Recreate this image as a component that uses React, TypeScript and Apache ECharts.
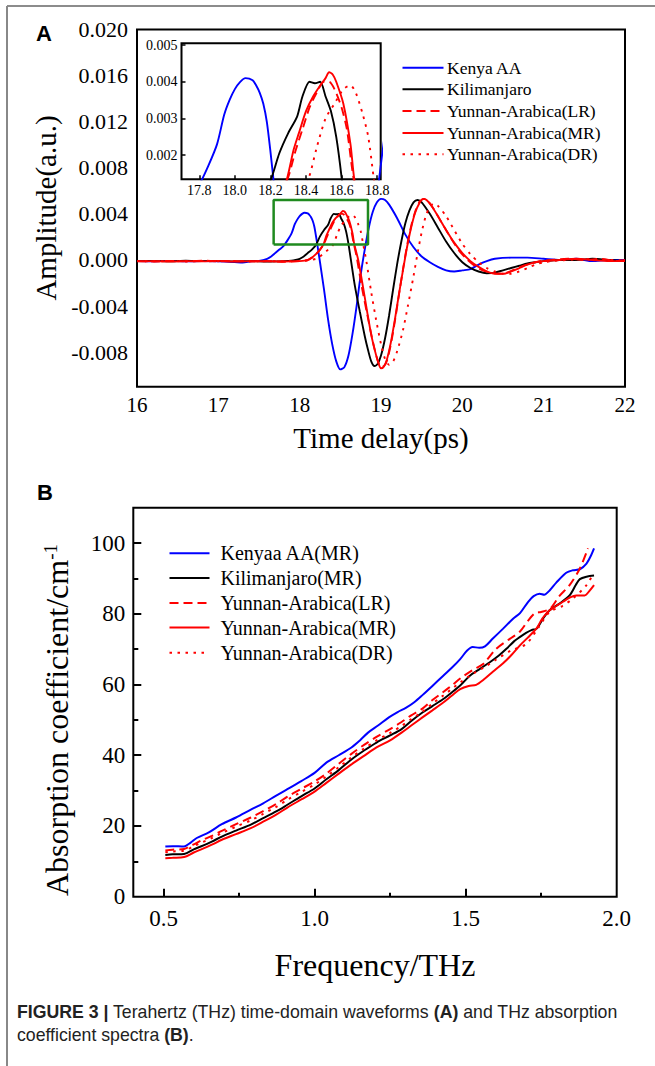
import React, { useEffect, useRef } from "react";
import * as echarts from "echarts";

const W = 655;
const H = 1066;
const SERIF = '"Liberation Serif", "Times New Roman", serif';
const SANS = '"Liberation Sans", Arial, sans-serif';

// ---------- Panel A: time-domain waveforms (time in ps, amplitude in a.u.) ----------
const namesA = ["Kenya AA", "Kilimanjaro", "Yunnan-Arabica(LR)", "Yunnan-Arabica(MR)", "Yunnan-Arabica(DR)"];

const kenyaAA_A: [number, number][] = [
  [16.0, -0.0001], [16.2, -0.00012], [16.4, -0.00008], [16.6, -0.00012], [16.8, -0.0001], [17.0, -0.00012],
  [17.2, -0.00018], [17.3, -0.00022], [17.4, -0.00012], [17.5, -0.00008], [17.6, 0.0001], [17.65, 0.0003],
  [17.7, 0.0006], [17.75, 0.0009], [17.8, 0.0012], [17.85, 0.0017], [17.9, 0.0023], [17.94, 0.0031],
  [17.97, 0.0035], [18.0, 0.0038], [18.03, 0.004], [18.06, 0.0041], [18.1, 0.00404], [18.12, 0.0039],
  [18.14, 0.0037], [18.16, 0.0034], [18.18, 0.0029], [18.2, 0.0021], [18.22, 0.0012], [18.25, -0.0002],
  [18.3, -0.0026], [18.35, -0.0052], [18.4, -0.0073], [18.45, -0.0088], [18.5, -0.0095], [18.55, -0.0093],
  [18.6, -0.0083], [18.65, -0.0064], [18.7, -0.004], [18.75, -0.0013], [18.8, 0.0009], [18.85, 0.0028],
  [18.9, 0.0042], [18.95, 0.005], [19.0, 0.0053], [19.05, 0.0052], [19.1, 0.0048], [19.2, 0.0036],
  [19.3, 0.0022], [19.4, 0.0011], [19.5, 0.0003], [19.6, -0.0002], [19.7, -0.0006], [19.8, -0.0009],
  [19.9, -0.001], [20.0, -0.0009], [20.1, -0.0008], [20.2, -0.0004], [20.3, -0.0001], [20.4, 0.0001],
  [20.6, 0.0002], [20.8, 0.0002], [21.0, 0.0001], [21.2, 0.0], [21.4, 0.0001], [21.6, -0.0001], [21.8, 0.0], [22.0, 0.0],
];

const kilimanjaro_A: [number, number][] = [
  [16.0, -0.0001], [16.2, -0.00008], [16.4, -0.00012], [16.6, -0.00006], [16.8, -0.0001], [17.0, -0.00008],
  [17.2, -0.00012], [17.4, -0.0001], [17.6, -0.00014], [17.8, -0.0001], [17.9, -0.00006], [17.95, 0.0],
  [18.0, 0.0001], [18.05, 0.0003], [18.1, 0.0006], [18.15, 0.0009], [18.2, 0.0013], [18.25, 0.00205],
  [18.3, 0.0026], [18.35, 0.00305], [18.38, 0.0036], [18.42, 0.004], [18.45, 0.00396], [18.48, 0.004],
  [18.51, 0.0036], [18.54, 0.0032], [18.57, 0.0025], [18.6, 0.0014], [18.63, 0.0], [18.68, -0.0023],
  [18.74, -0.0045], [18.8, -0.0066], [18.84, -0.0078], [18.88, -0.0088], [18.92, -0.0092], [18.96, -0.009],
  [19.0, -0.0083], [19.05, -0.0068], [19.1, -0.0048], [19.15, -0.0025], [19.2, -0.0003], [19.25, 0.0016],
  [19.3, 0.0032], [19.35, 0.0043], [19.4, 0.005], [19.45, 0.0052], [19.5, 0.005], [19.6, 0.004],
  [19.7, 0.0028], [19.8, 0.0016], [19.9, 0.0006], [20.0, -0.0002], [20.1, -0.0007], [20.2, -0.001],
  [20.3, -0.00115], [20.4, -0.0011], [20.5, -0.0009], [20.6, -0.0007], [20.7, -0.0005], [20.8, -0.0003],
  [20.9, -0.0002], [21.0, -0.0001], [21.2, 0.0], [21.4, 0.0], [21.6, 0.0001], [21.8, 0.0], [22.0, -0.0001],
];

const yunnanLR_A: [number, number][] = [
  [16.0, -0.0001], [16.2, -0.00014], [16.4, -0.00008], [16.6, -0.00012], [16.8, -0.00006], [17.0, -0.00012],
  [17.2, -0.0001], [17.4, -0.00014], [17.6, -0.0001], [17.8, -0.00016], [18.0, -0.0001], [18.1, 0.0],
  [18.15, 0.0002], [18.2, 0.0005], [18.25, 0.0009], [18.3, 0.0014], [18.34, 0.0021], [18.38, 0.0027],
  [18.42, 0.0033], [18.46, 0.0037], [18.5, 0.004], [18.53, 0.004], [18.56, 0.0038], [18.6, 0.0033],
  [18.63, 0.0027], [18.66, 0.0016], [18.7, 0.0003], [18.76, -0.0022], [18.83, -0.0047], [18.9, -0.0071],
  [18.95, -0.0085], [19.0, -0.0093], [19.04, -0.0092], [19.08, -0.0086], [19.13, -0.007], [19.18, -0.0049],
  [19.23, -0.0026], [19.28, -0.0004], [19.33, 0.0016], [19.38, 0.0032], [19.43, 0.0044], [19.48, 0.0051],
  [19.53, 0.0053], [19.58, 0.0051], [19.65, 0.0044], [19.75, 0.0032], [19.85, 0.002], [19.95, 0.0009],
  [20.05, 0.0001], [20.15, -0.0005], [20.25, -0.0009], [20.35, -0.0011], [20.45, -0.0012], [20.55, -0.0011],
  [20.65, -0.0008], [20.75, -0.0005], [20.85, -0.0003], [20.95, -0.0001], [21.1, 0.0], [21.3, 0.0001],
  [21.5, 0.0], [21.7, 0.0001], [21.9, -0.0001], [22.0, 0.0],
];

const yunnanMR_A: [number, number][] = [
  [16.0, -0.00012], [16.2, -0.0001], [16.4, -0.00014], [16.6, -0.0001], [16.8, -0.00012], [17.0, -0.00008],
  [17.2, -0.00014], [17.4, -0.0001], [17.6, -0.00012], [17.8, -0.00014], [18.0, -0.0001], [18.1, -0.00002],
  [18.15, 0.0002], [18.2, 0.0005], [18.25, 0.0009], [18.29, 0.0013], [18.33, 0.00214], [18.36, 0.0026],
  [18.4, 0.0032], [18.44, 0.0036], [18.48, 0.0039], [18.51, 0.0041], [18.53, 0.00426], [18.55, 0.0042],
  [18.57, 0.004], [18.61, 0.0034], [18.65, 0.0023], [18.67, 0.0014], [18.72, 0.0], [18.78, -0.0024],
  [18.83, -0.0045], [18.88, -0.0065], [18.93, -0.008], [18.97, -0.009], [19.0, -0.0094], [19.03, -0.0093],
  [19.07, -0.0087], [19.12, -0.0072], [19.17, -0.0052], [19.22, -0.003], [19.27, -0.0009], [19.32, 0.0011],
  [19.37, 0.0028], [19.42, 0.0041], [19.47, 0.0049], [19.52, 0.0053], [19.56, 0.0052], [19.62, 0.0047],
  [19.7, 0.0038], [19.8, 0.0026], [19.9, 0.0015], [20.0, 0.0006], [20.1, -0.0001], [20.2, -0.0006],
  [20.3, -0.001], [20.4, -0.0012], [20.5, -0.0012], [20.6, -0.001], [20.7, -0.0007], [20.8, -0.0004],
  [20.9, -0.0002], [21.0, -0.0001], [21.2, 0.0], [21.4, 0.0001], [21.6, 0.0], [21.8, -0.0001], [22.0, -0.0001],
];

const yunnanDR_A: [number, number][] = [
  [16.0, -0.0001], [16.2, -0.00012], [16.4, -0.0001], [16.6, -0.00014], [16.8, -0.0001], [17.0, -0.00012],
  [17.2, -0.00008], [17.4, -0.00012], [17.6, -0.0001], [17.8, -0.00012], [18.0, -0.0001], [18.1, -0.00006],
  [18.2, 0.0001], [18.25, 0.0003], [18.3, 0.0006], [18.35, 0.0009], [18.41, 0.0013], [18.46, 0.0022],
  [18.51, 0.003], [18.56, 0.0034], [18.61, 0.0038], [18.65, 0.0039], [18.68, 0.0037], [18.72, 0.0031],
  [18.75, 0.0025], [18.78, 0.0014], [18.82, -0.0001], [18.88, -0.0028], [18.94, -0.0052], [19.0, -0.0073],
  [19.05, -0.0086], [19.1, -0.0091], [19.15, -0.0088], [19.2, -0.0079], [19.27, -0.0061], [19.33, -0.004],
  [19.4, -0.0014], [19.45, 0.0006], [19.5, 0.0024], [19.55, 0.0038], [19.6, 0.0046], [19.65, 0.0049],
  [19.7, 0.0047], [19.8, 0.0038], [19.9, 0.0026], [20.0, 0.0014], [20.1, 0.0005], [20.2, -0.0002],
  [20.3, -0.0007], [20.4, -0.001], [20.5, -0.0012], [20.6, -0.0012], [20.7, -0.001], [20.8, -0.0007],
  [20.9, -0.0004], [21.0, -0.0002], [21.1, -0.0001], [21.3, 0.0], [21.5, 0.0001], [21.7, 0.0], [21.9, 0.0], [22.0, -0.0001],
];

// zoom window drawn on the main panel (time, amplitude corners)
const zoomBox: [number, number][] = [
  [17.68, 0.00135], [18.84, 0.00135], [18.84, 0.0052], [17.68, 0.0052], [17.68, 0.00135],
];

const ticksA_y = [-0.008, -0.004, 0, 0.004, 0.008, 0.012, 0.016, 0.02];
const ticksInset_x = [17.8, 18.0, 18.2, 18.4, 18.6, 18.8];
const ticksInset_y = [0.002, 0.003, 0.004, 0.005];

// ---------- Panel B: absorption coefficient (frequency THz, cm^-1) ----------
const namesB = ["Kenyaa AA(MR)", "Kilimanjaro(MR)", "Yunnan-Arabica(LR)", "Yunnan-Arabica(MR)", "Yunnan-Arabica(DR)"];

const kenyaAA_B: [number, number][] = [
  [0.506, 14.2], [0.53, 14.3], [0.568, 14.2], [0.59, 15.3], [0.61, 16.6], [0.65, 18.2], [0.693, 20.5],
  [0.74, 22.4], [0.789, 24.6], [0.83, 26.4], [0.873, 28.6], [0.91, 30.4], [0.956, 32.7], [1.0, 35.0],
  [1.039, 37.9], [1.08, 40.0], [1.122, 42.2], [1.15, 44.2], [1.177, 46.4], [1.21, 48.4], [1.246, 50.7],
  [1.275, 52.2], [1.302, 53.4], [1.33, 55.0], [1.357, 57.0], [1.39, 59.6], [1.426, 62.5], [1.455, 64.8],
  [1.482, 67.2], [1.505, 69.6], [1.523, 70.6], [1.545, 70.4], [1.564, 70.8], [1.59, 73.0], [1.624, 75.8],
  [1.657, 78.6], [1.68, 80.2], [1.707, 83.4], [1.725, 85.0], [1.745, 85.7], [1.76, 85.4], [1.778, 86.6],
  [1.8, 88.8], [1.833, 91.6], [1.855, 92.3], [1.878, 92.6], [1.9, 94.2], [1.915, 96.5], [1.925, 98.5],
];

const kilimanjaro_B: [number, number][] = [
  [0.506, 11.8], [0.53, 12.0], [0.568, 12.1], [0.6, 13.4], [0.623, 14.2], [0.66, 15.6], [0.693, 17.0],
  [0.74, 18.7], [0.789, 20.4], [0.83, 22.2], [0.873, 24.1], [0.91, 26.0], [0.956, 28.4], [1.0, 30.6],
  [1.039, 33.2], [1.08, 35.8], [1.122, 38.8], [1.165, 41.4], [1.205, 43.6], [1.25, 45.6], [1.288, 47.4],
  [1.32, 49.7], [1.357, 52.1], [1.39, 53.9], [1.426, 55.9], [1.455, 57.8], [1.482, 59.7], [1.514, 62.5],
  [1.545, 64.3], [1.58, 66.3], [1.61, 68.2], [1.635, 70.1], [1.66, 72.2], [1.679, 73.4], [1.7, 74.6],
  [1.718, 75.4], [1.735, 75.8], [1.755, 78.5], [1.778, 81.0], [1.811, 82.9], [1.844, 85.2], [1.865, 88.2],
  [1.878, 89.8], [1.9, 90.5], [1.925, 90.8],
];

const yunnanLR_B: [number, number][] = [
  [0.506, 13.1], [0.53, 13.3], [0.568, 13.5], [0.6, 14.8], [0.623, 15.8], [0.66, 17.2], [0.693, 18.6],
  [0.74, 20.5], [0.789, 22.4], [0.83, 24.2], [0.873, 26.2], [0.91, 28.3], [0.956, 30.5], [1.0, 32.6],
  [1.039, 34.8], [1.08, 37.6], [1.122, 40.4], [1.165, 43.0], [1.205, 45.2], [1.25, 47.4], [1.288, 49.4],
  [1.32, 51.3], [1.357, 53.2], [1.39, 55.6], [1.426, 57.9], [1.455, 59.8], [1.482, 61.7], [1.523, 64.1],
  [1.558, 65.8], [1.6, 70.0], [1.646, 72.9], [1.68, 75.0], [1.707, 78.1], [1.73, 80.2], [1.75, 80.5],
  [1.78, 81.5], [1.81, 85.0], [1.844, 88.1], [1.878, 92.8], [1.905, 98.5],
];

const yunnanMR_B: [number, number][] = [
  [0.506, 10.9], [0.53, 11.0], [0.568, 11.2], [0.6, 12.5], [0.623, 13.3], [0.66, 14.7], [0.693, 16.1],
  [0.74, 17.7], [0.789, 19.4], [0.83, 21.2], [0.873, 23.2], [0.91, 25.2], [0.956, 27.5], [1.0, 29.7],
  [1.039, 32.2], [1.08, 34.8], [1.122, 37.4], [1.165, 39.9], [1.205, 42.2], [1.25, 44.2], [1.288, 46.4],
  [1.32, 48.4], [1.357, 50.7], [1.39, 52.7], [1.426, 54.9], [1.455, 56.9], [1.482, 58.7], [1.51, 59.6],
  [1.535, 59.9], [1.56, 61.4], [1.59, 63.6], [1.624, 66.0], [1.65, 68.2], [1.679, 71.0], [1.705, 73.2],
  [1.734, 75.8], [1.755, 78.8], [1.778, 81.0], [1.8, 82.2], [1.822, 83.4], [1.845, 84.6], [1.866, 85.2],
  [1.894, 85.2], [1.91, 86.5], [1.925, 88.1],
];

const yunnanDR_B: [number, number][] = [
  [0.506, 12.6], [0.53, 12.8], [0.568, 13.0], [0.6, 14.3], [0.623, 15.2], [0.66, 16.6], [0.693, 18.0],
  [0.74, 19.8], [0.789, 21.6], [0.83, 23.4], [0.873, 25.4], [0.91, 27.4], [0.956, 29.6], [1.0, 31.7],
  [1.039, 34.0], [1.08, 36.6], [1.122, 39.4], [1.165, 42.0], [1.205, 44.2], [1.25, 46.3], [1.288, 48.3],
  [1.32, 50.2], [1.357, 52.3], [1.39, 54.6], [1.426, 56.9], [1.455, 58.8], [1.482, 60.6], [1.523, 63.0],
  [1.56, 64.8], [1.6, 67.0], [1.65, 69.6], [1.701, 71.5], [1.74, 76.0], [1.778, 80.5], [1.82, 82.2],
  [1.855, 84.3], [1.9, 88.1], [1.92, 91.0],
];

const ticksB_xMajor = [0.5, 1.0, 1.5];
const ticksB_xMinor = [0.75, 1.25, 1.75];
const labelsB_x = [0.5, 1.0, 1.5, 2.0];
const labelsB_y = [0, 20, 40, 60, 80, 100];
const ticksB_yMajor = [20, 40, 60, 80, 100];
const ticksB_yMinor = [10, 30, 50, 70, 90];

const COLORS = ["#0000ff", "#000000", "#ff0000", "#ff0000", "#ff0000"];
const DASHES: any[] = ["solid", "solid", [9, 5], "solid", [2.5, 5.5]];
const LEGEND_DASH: any[] = [null, null, [9, 5], null, [2.5, 5.5]];

function legendGraphics(names: string[], x0: number, lineLen: number, textX: number, rowY: number[], fontSize: number) {
  const out: any[] = [];
  names.forEach((n, i) => {
    out.push({
      type: "line",
      silent: true,
      shape: { x1: x0, y1: rowY[i], x2: x0 + lineLen, y2: rowY[i] },
      style: { stroke: COLORS[i], lineWidth: 2, lineDash: LEGEND_DASH[i] || undefined },
    });
    out.push({
      type: "text",
      silent: true,
      x: textX,
      y: rowY[i],
      style: { text: n, font: `${fontSize}px ${SERIF}`, fill: "#000", align: "left", verticalAlign: "middle" },
    });
  });
  return out;
}

function buildOption(): any {
  const dataA = [kenyaAA_A, kilimanjaro_A, yunnanLR_A, yunnanMR_A, yunnanDR_A];
  const dataB = [kenyaAA_B, kilimanjaro_B, yunnanLR_B, yunnanMR_B, yunnanDR_B];
  const series: any[] = [];
  dataA.forEach((d, i) => {
    const base = {
      type: "line",
      name: namesA[i],
      data: d,
      symbol: "none",
      showSymbol: false,
      smooth: 0.25,
      lineStyle: { color: COLORS[i], width: 1.9, type: DASHES[i] },
      itemStyle: { color: COLORS[i] },
      silent: true,
    };
    series.push({ ...base, xAxisIndex: 0, yAxisIndex: 0 });
    series.push({ ...base, xAxisIndex: 1, yAxisIndex: 1, clip: true });
  });
  series.push({
    type: "line",
    name: "zoom window",
    data: zoomBox,
    xAxisIndex: 0,
    yAxisIndex: 0,
    symbol: "none",
    lineStyle: { color: "#1f8a1f", width: 2.5 },
    silent: true,
  });
  dataB.forEach((d, i) => {
    series.push({
      type: "line",
      name: namesB[i],
      data: d,
      xAxisIndex: 2,
      yAxisIndex: 2,
      symbol: "none",
      showSymbol: false,
      smooth: 0.3,
      lineStyle: { color: COLORS[i], width: 2, type: DASHES[i] },
      itemStyle: { color: COLORS[i] },
      silent: true,
    });
  });

  const lbl = (size: number, margin: number, extra: any = {}) => ({
    color: "#000",
    fontFamily: SERIF,
    fontSize: size,
    margin,
    ...extra,
  });

  const legendA = legendGraphics(namesA, 402.5, 41, 447, [67.7, 89.3, 111, 133, 154.3], 17.5);
  const legendB = legendGraphics(namesB, 169.5, 40, 220.5, [553.3, 577.9, 603.1, 627.5, 652.7], 20);

  return {
    animation: false,
    backgroundColor: "#fff",
    textStyle: { fontFamily: SERIF },
    grid: [
      { left: 137, top: 29.5, width: 488, height: 357.2, show: true, borderColor: "#000", borderWidth: 2, backgroundColor: "transparent" },
      { left: 181.5, top: 43.3, width: 199.2, height: 136, show: true, borderColor: "#000", borderWidth: 2, backgroundColor: "#fff" },
      { left: 133.3, top: 507.7, width: 483.4, height: 389, show: true, borderColor: "#000", borderWidth: 2, backgroundColor: "transparent" },
    ],
    xAxis: [
      {
        gridIndex: 0, type: "value", min: 16, max: 22, interval: 1,
        axisLine: { show: false }, axisTick: { show: false }, splitLine: { show: false },
        axisLabel: lbl(21, 8),
      },
      {
        gridIndex: 1, type: "value", min: 17.7, max: 18.82,
        axisLine: { show: false }, splitLine: { show: false },
        axisTick: { show: true, inside: true, length: 4, customValues: ticksInset_x, lineStyle: { color: "#000", width: 1.5 } },
        axisLabel: lbl(14, 4, { customValues: ticksInset_x, formatter: (v: number) => v.toFixed(1) }),
      },
      {
        gridIndex: 2, type: "value", min: 0.4, max: 2.0, position: "bottom",
        axisLine: { show: false }, splitLine: { show: false },
        axisTick: { show: true, inside: true, length: 8, customValues: ticksB_xMajor, lineStyle: { color: "#000", width: 2 } },
        axisLabel: lbl(23, 10, { customValues: labelsB_x, formatter: (v: number) => v.toFixed(1) }),
      },
      {
        gridIndex: 2, type: "value", min: 0.4, max: 2.0, position: "bottom", offset: 0,
        axisLine: { show: false }, splitLine: { show: false },
        axisTick: { show: true, inside: true, length: 4, customValues: ticksB_xMinor, lineStyle: { color: "#000", width: 2 } },
        axisLabel: { show: false },
      },
    ],
    yAxis: [
      {
        gridIndex: 0, type: "value", min: -0.011, max: 0.02,
        axisLine: { show: false }, axisTick: { show: false }, splitLine: { show: false },
        axisLabel: lbl(22, 9, { customValues: ticksA_y, formatter: (v: number) => v.toFixed(3) }),
      },
      {
        gridIndex: 1, type: "value", min: 0.00134, max: 0.00505,
        axisLine: { show: false }, splitLine: { show: false },
        axisTick: { show: true, inside: true, length: 4, customValues: ticksInset_y, lineStyle: { color: "#000", width: 1.5 } },
        axisLabel: lbl(14, 4, { customValues: ticksInset_y, formatter: (v: number) => v.toFixed(3) }),
      },
      {
        gridIndex: 2, type: "value", min: 0, max: 110, position: "left",
        axisLine: { show: false }, splitLine: { show: false },
        axisTick: { show: true, inside: true, length: 8, customValues: ticksB_yMajor, lineStyle: { color: "#000", width: 2 } },
        axisLabel: lbl(23, 8, { customValues: labelsB_y, formatter: (v: number) => String(v) }),
      },
      {
        gridIndex: 2, type: "value", min: 0, max: 110, position: "left", offset: 0,
        axisLine: { show: false }, splitLine: { show: false },
        axisTick: { show: true, inside: true, length: 5, customValues: ticksB_yMinor, lineStyle: { color: "#000", width: 2 } },
        axisLabel: { show: false },
      },
    ],
    series,
    graphic: [
      { type: "line", shape: { x1: 7, y1: 6, x2: 655, y2: 6 }, style: { stroke: "#666", lineWidth: 1.5 }, silent: true },
      { type: "line", shape: { x1: 7, y1: 6, x2: 7, y2: 1066 }, style: { stroke: "#888", lineWidth: 2 }, silent: true },
      ...legendA,
      ...legendB,
      { type: "text", x: 44, y: 33, style: { text: "A", font: `bold 22px ${SANS}`, fill: "#000", align: "center", verticalAlign: "middle" } },
      { type: "text", x: 45, y: 492, style: { text: "B", font: `bold 22px ${SANS}`, fill: "#000", align: "center", verticalAlign: "middle" } },
      { type: "text", x: 46, y: 208, rotation: Math.PI / 2, style: { text: "Amplitude(a.u.)", font: `29px ${SERIF}`, fill: "#000", align: "center", verticalAlign: "middle" } },
      { type: "text", x: 381, y: 438, style: { text: "Time delay(ps)", font: `29px ${SERIF}`, fill: "#000", align: "center", verticalAlign: "middle" } },
      {
        type: "text", x: 57, y: 720, rotation: Math.PI / 2,
        style: {
          text: "{m|Absorption coefficient/cm}{s|-1}",
          fontFamily: SERIF, fontSize: 32, fill: "#000", align: "center", verticalAlign: "middle",
          rich: {
            m: { fontFamily: SERIF, fontSize: 32, fill: "#000" },
            s: { fontFamily: SERIF, fontSize: 19, fill: "#000", verticalAlign: "top" },
          },
        },
      },
      { type: "text", x: 375, y: 965, style: { text: "Frequency/THz", font: `32px ${SERIF}`, fill: "#000", align: "center", verticalAlign: "middle" } },
      {
        type: "text", x: 17, y: 1012,
        style: {
          text: "{b|FIGURE 3 |} Terahertz (THz) time-domain waveforms {b|(A)} and THz absorption",
          fontFamily: SANS, fontSize: 17.7, fill: "#222", align: "left", verticalAlign: "middle",
          rich: { b: { fontFamily: SANS, fontSize: 17.7, fontWeight: "bold", fill: "#222" } },
        },
      },
      {
        type: "text", x: 17, y: 1035,
        style: {
          text: "coefficient spectra {b|(B)}.",
          fontFamily: SANS, fontSize: 17.7, fill: "#222", align: "left", verticalAlign: "middle",
          rich: { b: { fontFamily: SANS, fontSize: 17.7, fontWeight: "bold", fill: "#222" } },
        },
      },
    ],
  };
}

export default function App() {
  const ref = useRef<HTMLDivElement>(null);
  useEffect(() => {
    if (!ref.current) return;
    const chart = echarts.init(ref.current, null, { renderer: "svg", width: W, height: H });
    chart.setOption(buildOption());
    return () => chart.dispose();
  }, []);
  return (
    <div
      ref={ref}
      style={{ position: "absolute", left: 0, top: 0, width: W, height: H, background: "#fff" }}
    />
  );
}
